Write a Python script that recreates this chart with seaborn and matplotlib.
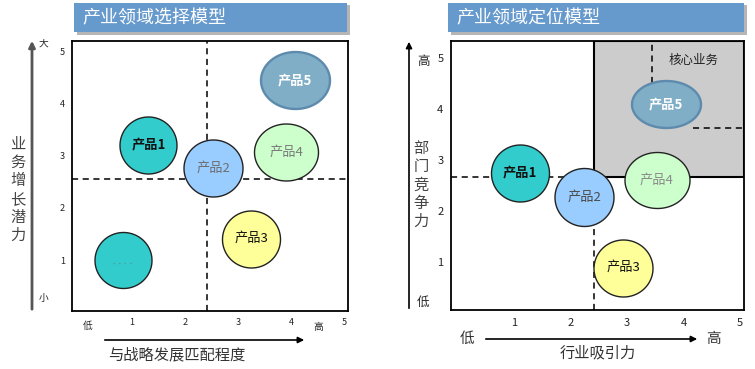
import numpy as np
import matplotlib.pyplot as plt
import seaborn as sns
from matplotlib.patches import Rectangle, FancyArrowPatch

# ---- data ----
products = ["产品1", "产品2", "产品3", "产品4", "产品5"]
ticks = [1, 2, 3, 4, 5]

# 产业领域选择模型 (x: 与战略发展匹配程度, y: 业务增长潜力)
sel_x = [1.31, 2.53, 3.25, 3.91, 4.07]
sel_y = [3.22, 2.76, 1.41, 3.08, 4.46]
sel_w = [57, 59, 58, 64, 69]
sel_h = [57, 57, 57, 57, 57]
other_x, other_y = 0.83, 1.0
sel_xcut, sel_ycut = 2.42, 2.56

# 产业领域定位模型 (x: 行业吸引力, y: 部门竞争力)
pos_x = [1.11, 2.24, 2.93, 3.53, 3.69]
pos_y = [2.75, 2.27, 0.89, 2.61, 4.09]
pos_w = [58, 59, 59, 65, 69]
pos_h = [57, 58, 57, 56, 47]
pos_xcut, pos_ycut = 2.42, 2.66
core_x, core_y = 3.44, 3.63

fills = ["#33CCCC", "#99CCFF", "#FFFF99", "#CCFFCC", "#7FAEC6"]
edges = ["#222222", "#222222", "#222222", "#222222", "#5E8BAD"]
sel_txt = ["#111111", "#6E6E6E", "#111111", "#7A7A7A", "#FFFFFF"]
pos_txt = ["#111111", "#4A4A4A", "#111111", "#8A8A8A", "#FFFFFF"]

sns.set_theme(style="white")
plt.rcParams['font.family'] = ['Noto Sans CJK SC', 'DejaVu Sans']

W, H = 755, 369
fig = plt.figure(figsize=(W / 100, H / 100), dpi=100)


def fx(px):
    return px / W


def fy(py):
    return 1 - py / H


def ell(w, h):
    t = np.linspace(0, 2 * np.pi, 120)
    return np.column_stack([w * np.cos(t), h * np.sin(t)])


def bubble(ax, x, y, w, h, fc, ec, lw=1.0):
    sns.scatterplot(x=[x], y=[y], marker=ell(w, h), s=(max(w, h) * 0.72) ** 2,
                    color=fc, edgecolor=ec, linewidth=lw, ax=ax, zorder=3,
                    legend=False, clip_on=False)


def title_bar(x0, x1, text):
    fig.add_artist(Rectangle((fx(x0 + 3), fy(35)), fx(x1 - x0), fy(5) - fy(35),
                             transform=fig.transFigure, fc="#B5B5B5", ec="none"))
    fig.add_artist(Rectangle((fx(x0), fy(32)), fx(x1 - x0), fy(3) - fy(32),
                             transform=fig.transFigure, fc="#6699CC", ec="none"))
    fig.text(fx(x0 + 8), fy(18), text, color="white", fontsize=13,
             ha="left", va="center")


def arrow(p0, p1, color="black", lw=1.2):
    fig.add_artist(FancyArrowPatch((fx(p0[0]), fy(p0[1])), (fx(p1[0]), fy(p1[1])),
                                   transform=fig.transFigure, arrowstyle="-|>",
                                   mutation_scale=9, color=color, lw=lw))


def style_axes(ax, xlim, ylim, fs, pad):
    ax.set_xlim(*xlim)
    ax.set_ylim(*ylim)
    ax.set_xticks(ticks)
    ax.set_yticks(ticks)
    ax.set_xticklabels([str(t) for t in ticks], fontsize=fs)
    ax.set_yticklabels([str(t) for t in ticks], fontsize=fs)
    ax.tick_params(length=0, pad=pad, colors="#222222")
    ax.set_xlabel("")
    ax.set_ylabel("")
    for s in ax.spines.values():
        s.set_visible(True)
        s.set_color("black")
        s.set_linewidth(1.3)
        s.set_zorder(5)


# ---- left panel ----
ax1 = fig.add_axes([fx(72), fy(311), fx(348 - 72), fy(41) - fy(311)])
ax1.axvline(sel_xcut, color="black", lw=1.1, ls=(0, (4, 3)), zorder=1)
ax1.axhline(sel_ycut, color="black", lw=1.1, ls=(0, (4, 3)), zorder=1)
bubble(ax1, other_x, other_y, 57, 56, fills[0], edges[0])
ax1.plot([other_x - 0.19, other_x + 0.19], [other_y - 0.05, other_y - 0.05],
         color="#4F9C9C", lw=1, ls=(0, (1, 3)), zorder=4)
for i, p in enumerate(products):
    lw = 1.7 if i == 4 else 1.0
    bubble(ax1, sel_x[i], sel_y[i], sel_w[i], sel_h[i], fills[i], edges[i], lw)
    ax1.text(sel_x[i], sel_y[i], p, ha="center", va="center", fontsize=9.5,
             color=sel_txt[i], zorder=4, fontweight="bold" if i in (0, 4) else "normal")
style_axes(ax1, (-0.132, 5.075), (0.02, 5.21), 6.5, 5)

# ---- right panel ----
ax2 = fig.add_axes([fx(451), fy(310), fx(744 - 451), fy(41) - fy(310)])
xl, yl = (-0.115, 5.07), (0.06, 5.33)
ax2.add_patch(Rectangle((pos_xcut, pos_ycut), xl[1] - pos_xcut, yl[1] - pos_ycut,
                        fc="#CCCCCC", ec="black", lw=1.5, zorder=1))
ax2.plot([xl[0], pos_xcut], [pos_ycut, pos_ycut], color="black", lw=1.1,
         ls=(0, (4, 3)), zorder=1)
ax2.plot([pos_xcut, pos_xcut], [yl[0], pos_ycut], color="black", lw=1.1,
         ls=(0, (4, 3)), zorder=1)
ax2.plot([core_x, core_x], [4.5, yl[1]], color="black", lw=1.1,
         ls=(0, (4, 3)), zorder=2)
ax2.plot([4.17, xl[1]], [core_y, core_y], color="black", lw=1.1,
         ls=(0, (4, 3)), zorder=2)
ax2.text(4.17, 4.96, "核心业务", ha="center", va="center", fontsize=9,
         color="#222222", zorder=4)
for i, p in enumerate(products):
    lw = 1.7 if i == 4 else 1.0
    bubble(ax2, pos_x[i], pos_y[i], pos_w[i], pos_h[i], fills[i], edges[i], lw)
    ax2.text(pos_x[i], pos_y[i], p, ha="center", va="center", fontsize=9.5,
             color=pos_txt[i], zorder=4, fontweight="bold" if i in (0, 4) else "normal")
style_axes(ax2, xl, yl, 8, 5.5)

# ---- titles ----
title_bar(74, 347, "产业领域选择模型")
title_bar(448, 744, "产业领域定位模型")

# ---- outer axis arrows and labels ----
arrow((32, 312), (32, 38), color="#555555", lw=2)
arrow((102, 340), (307, 340))
arrow((409, 311), (409, 39))
arrow((483, 339), (700, 339))

fig.text(fx(43), fy(44), "大", fontsize=7, ha="center", va="center")
fig.text(fx(44), fy(298), "小", fontsize=7, ha="center", va="center")
fig.text(fx(88), fy(326), "低", fontsize=7, ha="center", va="center")
fig.text(fx(318), fy(327), "高", fontsize=7, ha="center", va="center")
fig.text(fx(18), fy(190), "业\n务\n增\n长\n潜\n力", fontsize=11, ha="center",
         va="center", color="#444444", linespacing=1.1)
fig.text(fx(177), fy(355), "与战略发展匹配程度", fontsize=11, ha="center",
         va="center", color="#333333")

fig.text(fx(423), fy(61), "高", fontsize=9, ha="center", va="center")
fig.text(fx(423), fy(302), "低", fontsize=9, ha="center", va="center")
fig.text(fx(467), fy(339), "低", fontsize=10.5, ha="center", va="center", color="#333333")
fig.text(fx(713), fy(339), "高", fontsize=10.5, ha="center", va="center", color="#333333")
fig.text(fx(421), fy(185), "部\n门\n竞\n争\n力", fontsize=11, ha="center",
         va="center", color="#444444", linespacing=1.1)
fig.text(fx(598), fy(353), "行业吸引力", fontsize=11, ha="center",
         va="center", color="#333333")

fig.savefig("out.png", dpi=100, facecolor="white")
